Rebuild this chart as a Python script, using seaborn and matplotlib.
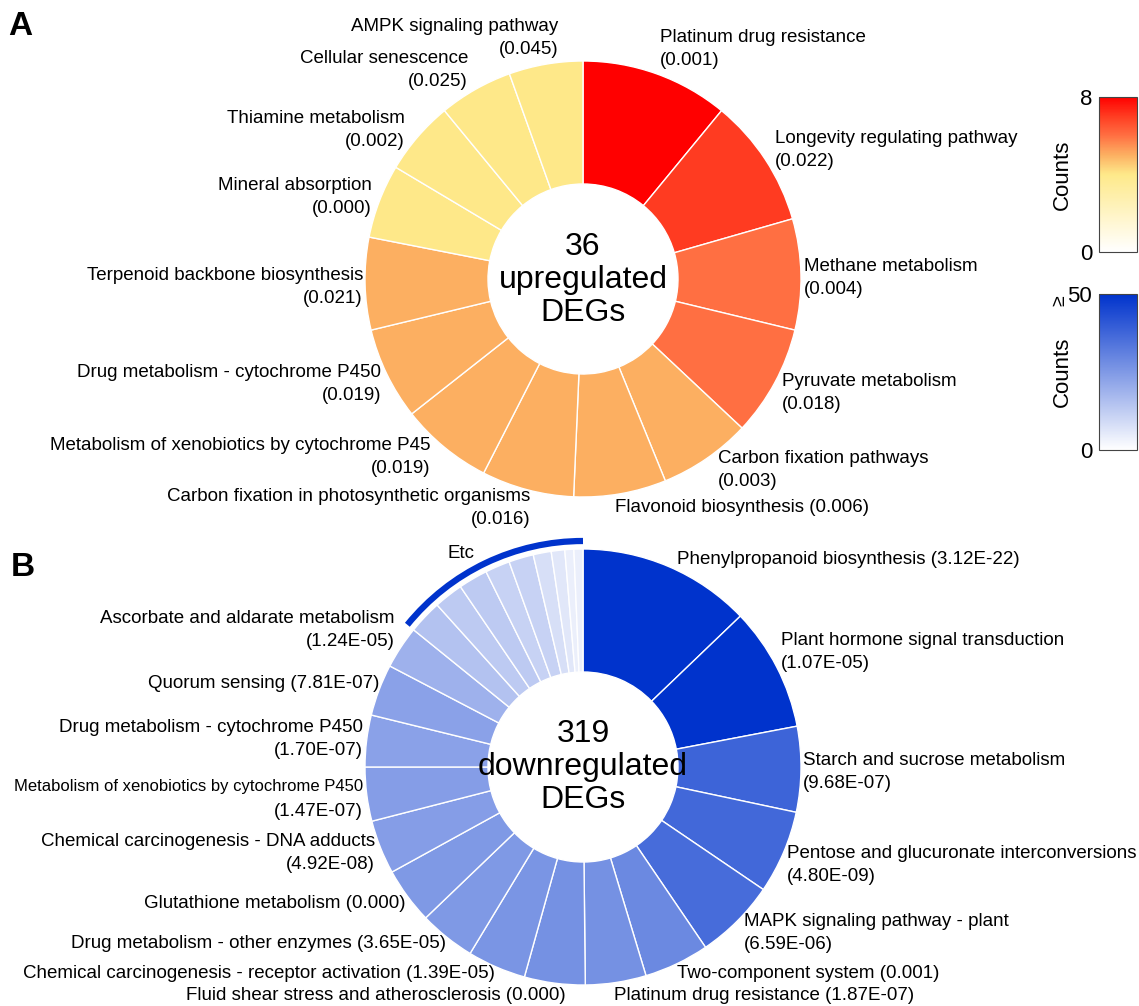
import matplotlib
matplotlib.use("Agg")
import matplotlib.pyplot as plt
import numpy as np
import seaborn as sns
from matplotlib.cm import ScalarMappable
from matplotlib.colors import LinearSegmentedColormap, Normalize
from matplotlib.patches import Arc

# ---- panel A: upregulated DEGs (clockwise from 12 o'clock)
up_terms = [
    "Platinum drug resistance",
    "Longevity regulating pathway",
    "Methane metabolism",
    "Pyruvate metabolism",
    "Carbon fixation pathways",
    "Flavonoid biosynthesis",
    "Carbon fixation in photosynthetic organisms",
    "Metabolism of xenobiotics by cytochrome P45",
    "Drug metabolism - cytochrome P450",
    "Terpenoid backbone biosynthesis",
    "Mineral absorption",
    "Thiamine metabolism",
    "Cellular senescence",
    "AMPK signaling pathway",
]
up_pvals = ["0.001", "0.022", "0.004", "0.018", "0.003", "0.006", "0.016",
            "0.019", "0.019", "0.021", "0.000", "0.002", "0.025", "0.045"]
up_counts = [8, 7, 6, 6, 5, 5, 5, 5, 5, 5, 4, 4, 4, 4]
up_total = 36

# ---- panel B: downregulated DEGs (clockwise from 12 o'clock)
down_terms = [
    "Phenylpropanoid biosynthesis",
    "Plant hormone signal transduction",
    "Starch and sucrose metabolism",
    "Pentose and glucuronate interconversions",
    "MAPK signaling pathway - plant",
    "Two-component system",
    "Platinum drug resistance",
    "Fluid shear stress and atherosclerosis",
    "Chemical carcinogenesis - receptor activation",
    "Drug metabolism - other enzymes",
    "Glutathione metabolism",
    "Chemical carcinogenesis - DNA adducts",
    "Metabolism of xenobiotics by cytochrome P450",
    "Drug metabolism - cytochrome P450",
    "Quorum sensing",
    "Ascorbate and aldarate metabolism",
]
down_pvals = ["3.12E-22", "1.07E-05", "9.68E-07", "4.80E-09", "6.59E-06", "0.001",
              "1.87E-07", "0.000", "1.39E-05", "3.65E-05", "0.000", "4.92E-08",
              "1.47E-07", "1.70E-07", "7.81E-07", "1.24E-05"]
down_counts = [77, 55, 38, 37, 36, 29, 27, 27, 26, 25, 25, 24, 24, 23, 23, 19]
etc_counts = [15, 13, 13, 11, 11, 8, 6, 4, 4]
down_total = 319

# ---- layout (pixel coords from top-left): x, y, ha, separator
W, H = 1139, 1006
up_layout = [
    (660, 49, "left", "\n"), (775, 150, "left", "\n"), (804, 278, "left", "\n"),
    (782, 393, "left", "\n"), (718, 470, "left", "\n"), (615, 508, "left", " "),
    (530, 508, "right", "\n"), (430, 457, "right", "\n"), (381, 384, "right", "\n"),
    (363, 287, "right", "\n"), (372, 197, "right", "\n"), (405, 130, "right", "\n"),
    (468, 70, "right", "\n"), (558, 38, "right", "\n"),
]
down_layout = [
    (677, 559, "left", " "), (781, 652, "left", "\n"), (803, 772, "left", "\n"),
    (787, 865, "left", "\n"), (744, 933, "left", "\n"), (677, 973, "left", " "),
    (614, 996, "left", " "), (566, 996, "right", " "), (495, 974, "right", " "),
    (446, 944, "right", " "), (405, 903, "right", " "), (375, 853, "right", "\n"),
    (363, 799, "right", "\n"), (363, 739, "right", "\n"), (379, 684, "right", " "),
    (395, 630, "right", "\n"),
]

sns.set_style("white")
plt.rcParams["font.family"] = ["Liberation Sans", "DejaVu Sans"]
plt.rcParams["text.color"] = "black"
plt.rcParams["ytick.color"] = "black"
plt.rcParams["axes.labelcolor"] = "black"

red_cmap = LinearSegmentedColormap.from_list(
    "up", [(0, "#FFFFFF"), (0.5, "#FEE98A"), (0.625, "#FCB062"),
           (0.75, "#FF7043"), (0.875, "#FF3D22"), (1, "#FF0000")])
blue_cmap = sns.blend_palette(["#FFFFFF", "#0033CC"], as_cmap=True)

fig = plt.figure(figsize=(W / 100, H / 100), dpi=100)
ax = fig.add_axes([0, 0, 1, 1])

cA = (583, H - 279)
cB = (583, H - 767)
r_out, r_in = 218, 95

up_colors = [red_cmap(c / 8) for c in up_counts]
ax.pie(up_counts, colors=up_colors, startangle=90, counterclock=False,
       center=cA, radius=r_out,
       wedgeprops=dict(width=r_out - r_in, edgecolor="white", linewidth=1.0))

all_down = down_counts + etc_counts
down_colors = [blue_cmap(min(c, 50) / 50) for c in all_down]
ax.pie(all_down, colors=down_colors, startangle=90, counterclock=False,
       center=cB, radius=r_out,
       wedgeprops=dict(width=r_out - r_in, edgecolor="white", linewidth=1.0))

# "Etc" bracket arc over the small slices
etc_span = 360 * sum(etc_counts) / sum(all_down)
ax.add_patch(Arc(cB, 2 * 226, 2 * 226, theta1=90, theta2=90 + etc_span,
                 color="#0033CC", lw=4.5, capstyle="butt"))
ax.text(461, H - 553, "Etc", ha="center", va="center", fontsize=13.5)

LS = 1.47
# labels
for term, p, (x, y, ha, sep) in zip(up_terms, up_pvals, up_layout):
    ax.text(x, H - y, f"{term}{sep}({p})", ha=ha, va="center",
            fontsize=13.5, linespacing=LS)
for term, p, (x, y, ha, sep) in zip(down_terms, down_pvals, down_layout):
    if term.startswith("Metabolism of xenobiotics"):
        # condensed first line in the original
        ax.text(x, H - (y - 12), term, ha=ha, va="center", fontsize=12.0)
        ax.text(x, H - (y + 12), f"({p})", ha=ha, va="center", fontsize=13.5)
        continue
    ax.text(x, H - y, f"{term}{sep}({p})", ha=ha, va="center",
            fontsize=13.5, linespacing=LS)

# centre texts
ax.text(cA[0], cA[1] - 1, f"{up_total}\nupregulated\nDEGs", ha="center", va="center",
        fontsize=23, linespacing=1.11)
ax.text(cB[0], cB[1], f"{down_total}\ndownregulated\nDEGs", ha="center", va="center",
        fontsize=23, linespacing=1.11)

# panel letters
ax.text(20, H - 26, "A", ha="center", va="center", fontsize=24, fontweight="bold")
ax.text(23, H - 567, "B", ha="center", va="center", fontsize=24, fontweight="bold")

ax.set_xlim(0, W)
ax.set_ylim(0, H)
ax.set_aspect("equal")
ax.axis("off")

# colour bars
def add_cbar(top, bottom, cmap, vmax, labels):
    cax = fig.add_axes([1099 / W, 1 - bottom / H, 38 / W, (bottom - top) / H])
    cb = fig.colorbar(ScalarMappable(Normalize(0, vmax), cmap), cax=cax)
    cb.set_ticks([0, vmax])
    cb.set_ticklabels(labels)
    cax.yaxis.set_ticks_position("left")
    cax.tick_params(length=0, labelsize=16, pad=5, labelcolor="black")
    cb.outline.set_edgecolor("#444444")
    cb.outline.set_linewidth(0.8)
    cb.set_label("Counts", fontsize=16, color="black")
    cax.yaxis.set_label_position("left")
    cax.yaxis.set_label_coords(-0.7, 0.5)
    return cax

add_cbar(97, 252, red_cmap, 8, ["0", "8"])
add_cbar(294, 450, blue_cmap, 50, ["0", "50"])
fig.text(1060 / W, 1 - 301 / H, "≥", rotation=90, ha="center", va="center", fontsize=14)

fig.savefig("out.png", dpi=100)
